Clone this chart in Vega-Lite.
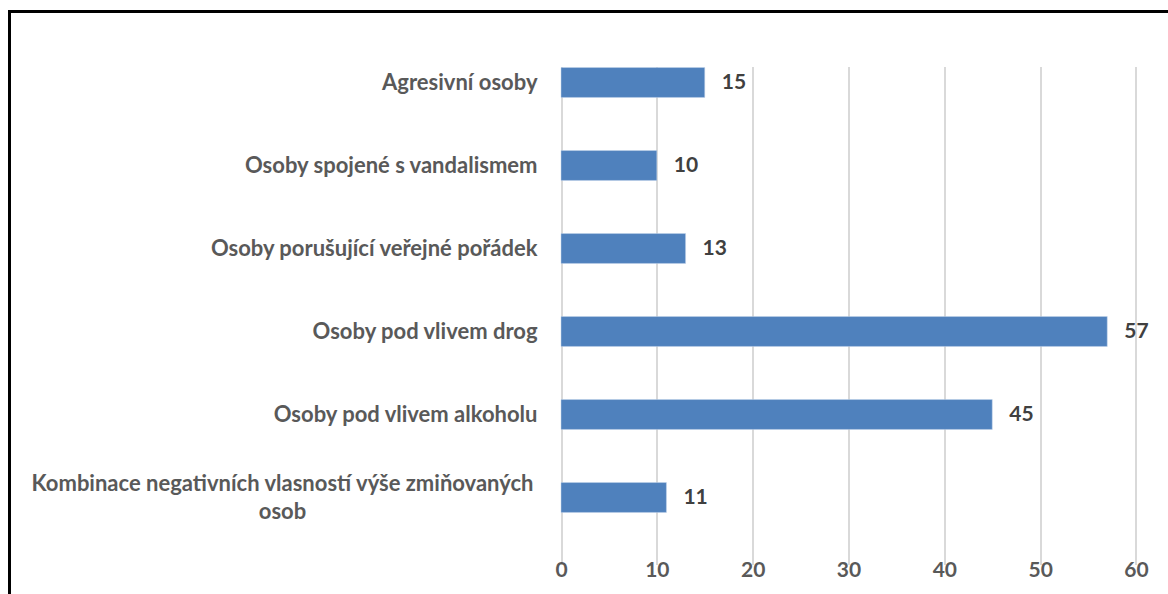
{
  "$schema": "https://vega.github.io/schema/vega-lite/v6.json",
  "autosize": "none",
  "padding": {"left": 9.5, "top": 11.5, "right": 0, "bottom": 0},
  "width": 1158.5,
  "height": 582.5,
  "background": "white",
  "config": {
    "view": {"stroke": "black", "strokeWidth": 3, "strokeDash": [1158.5, 1741, 620], "fill": "white"},
    "font": "Lato"
  },
  "data": {
    "values": [
      {"kategorie": "Agresivní osoby", "pocet": 15},
      {"kategorie": "Osoby spojené s vandalismem", "pocet": 10},
      {"kategorie": "Osoby porušující veřejné pořádek", "pocet": 13},
      {"kategorie": "Osoby pod vlivem drog", "pocet": 57},
      {"kategorie": "Osoby pod vlivem alkoholu", "pocet": 45},
      {"kategorie": "Kombinace negativních vlasností výše zmiňovaných osob", "pocet": 11}
    ]
  },
  "encoding": {
    "y": {
      "field": "kategorie",
      "type": "nominal",
      "sort": null,
      "scale": {"range": [29.5, 527.5], "paddingInner": 0.64, "paddingOuter": 0.32},
      "axis": {
        "title": null,
        "orient": "left",
        "offset": -551.5,
        "domain": false,
        "ticks": false,
        "tickSize": 0,
        "grid": false,
        "labelPadding": {"condition": {"test": "length(datum.label) > 40", "value": 279}, "value": 24},
        "labelAlign": {"condition": {"test": "length(datum.label) > 40", "value": "center"}, "value": "right"},
        "labelOffset": {"condition": {"test": "length(datum.label) > 40", "value": -14}, "value": 0},
        "labelExpr": "length(datum.label) > 40 ? ['Kombinace negativních vlasností výše zmiňovaných', 'osob'] : datum.label",
        "labelFont": "Lato",
        "labelFontSize": 22,
        "labelFontWeight": "bold",
        "labelColor": "#595959",
        "labelLimit": 800,
        "labelLineHeight": 28
      }
    },
    "x": {
      "field": "pocet",
      "type": "quantitative",
      "scale": {"domain": [-57.55, 63.34], "nice": false, "zero": false},
      "axis": {
        "title": null,
        "orient": "bottom",
        "offset": -53,
        "values": [0, 10, 20, 30, 40, 50, 60],
        "domain": false,
        "ticks": false,
        "tickSize": 0,
        "labelPadding": 18,
        "labelFont": "Lato",
        "labelFontSize": 21,
        "labelFontWeight": "bold",
        "labelColor": "#595959",
        "grid": true,
        "gridColor": "#d9d9d9",
        "gridWidth": 2
      }
    }
  },
  "layer": [
    {
      "mark": {"type": "bar", "color": "#4f81bd", "stroke": "#c5d4ea", "strokeWidth": 0.5},
      "encoding": {"x2": {"datum": 0}}
    },
    {
      "mark": {"type": "text", "align": "left", "baseline": "middle", "dx": 17, "fontSize": 21, "fontWeight": "bold", "color": "#404040", "font": "Lato"},
      "encoding": {"text": {"field": "pocet", "type": "quantitative"}}
    }
  ]
}
